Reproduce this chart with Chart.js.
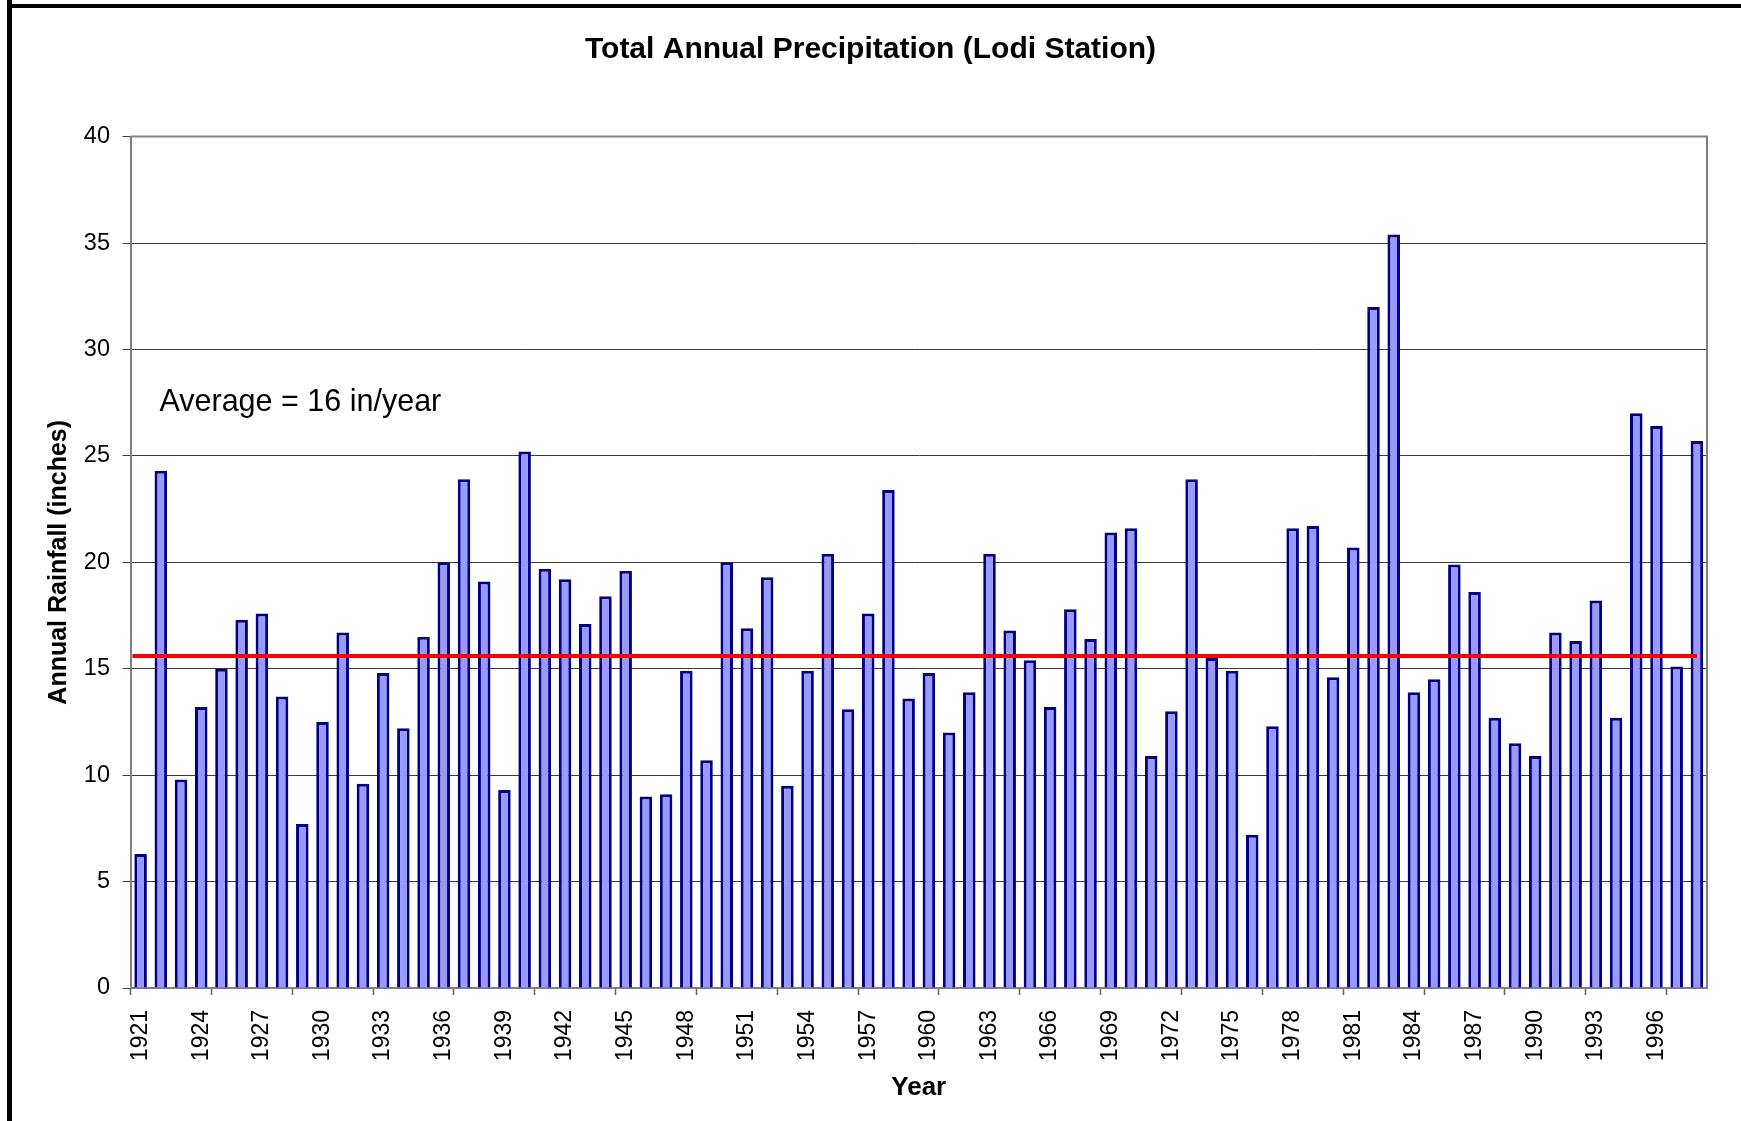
<!DOCTYPE html>
<html>
<head>
<meta charset="utf-8">
<script src="https://cdn.jsdelivr.net/npm/chart.js@4.4.1/dist/chart.umd.min.js"></script>
<style>
html, body { margin: 0; padding: 0; background: #ffffff; }
#wrap { position: relative; width: 1741px; height: 1121px; }
</style>
</head>
<body>
<div id="wrap"><canvas id="c"></canvas></div>
<script>
const years = ['1921','1922','1923','1924','1925','1926','1927','1928','1929','1930',
  '1931','1932','1933','1934','1935','1936','1937','1938','1939','1940',
  '1941','1942','1943','1944','1945','1946','1947','1948','1949','1950',
  '1951','1952','1953','1954','1955','1956','1957','1958','1959','1960',
  '1961','1962','1963','1964','1965','1966','1967','1968','1969','1970',
  '1971','1972','1973','1974','1975','1976','1977','1978','1979','1980',
  '1981','1982','1983','1984','1985','1986','1987','1988','1989','1990',
  '1991','1992','1993','1994','1995','1996','1997','1998'];

const rainfall = [6.3, 24.3, 9.8, 13.2, 15.0, 17.3, 17.6, 13.7, 7.7, 12.5,
  16.7, 9.6, 14.8, 12.2, 16.5, 20.0, 23.9, 19.1, 9.3, 25.2,
  19.7, 19.2, 17.1, 18.4, 19.6, 9.0, 9.1, 14.9, 10.7, 20.0,
  16.9, 19.3, 9.5, 14.9, 20.4, 13.1, 17.6, 23.4, 13.6, 14.8,
  12.0, 13.9, 20.4, 16.8, 15.4, 13.2, 17.8, 16.4, 21.4, 21.6,
  10.9, 13.0, 23.9, 15.5, 14.9, 7.2, 12.3, 21.6, 21.7, 14.6,
  20.7, 32.0, 35.4, 13.9, 14.5, 19.9, 18.6, 12.7, 11.5, 10.9,
  16.7, 16.3, 18.2, 12.7, 27.0, 26.4, 15.1, 25.7];

const labeledYears = ['1921','1924','1927','1930','1933','1936','1939','1942','1945',
  '1948','1951','1954','1957','1960','1963','1966','1969','1972','1975','1978',
  '1981','1984','1987','1990','1993','1996'];

const averageRainfall = 15.6;
const averageLabel = 'Average = 16 in/year';
const averageLabelValue = 27.5;
const chartTitle = 'Total Annual Precipitation (Lodi Station)';
const yAxisTitle = 'Annual Rainfall (inches)';
const xAxisTitle = 'Year';
const yMin = 0, yMax = 40, yStep = 5;

Chart.defaults.font.family = '"Liberation Sans", Arial, sans-serif';
Chart.defaults.color = '#000000';

const decorPlugin = {
  id: 'decor',
  beforeDraw(chart) {
    const ctx = chart.ctx;
    ctx.save();
    ctx.fillStyle = '#ffffff';
    ctx.fillRect(0, 0, chart.width, chart.height);
    ctx.fillStyle = '#000000';
    ctx.fillRect(7, 0, 5, chart.height);
    ctx.fillRect(7, 4, chart.width - 7, 4);
    ctx.restore();
  },
  afterDatasetsDraw(chart) {
    const ctx = chart.ctx;
    const a = chart.chartArea;
    const xs = chart.scales.x, ys = chart.scales.y;
    ctx.save();
    ctx.strokeStyle = '#808080';
    ctx.lineWidth = 2;
    ctx.beginPath();
    ctx.moveTo(a.left, a.top);
    ctx.lineTo(a.right, a.top);
    ctx.lineTo(a.right, a.bottom);
    ctx.stroke();

    const yPix = ys.getPixelForValue(averageRainfall);
    ctx.strokeStyle = '#ff0000';
    ctx.lineWidth = 4;
    ctx.beginPath();
    ctx.moveTo(a.left + 2, yPix);
    ctx.lineTo(xs.getPixelForValue(years.length - 1), yPix);
    ctx.stroke();

    ctx.fillStyle = '#000000';
    ctx.font = '30.5px "Liberation Sans", Arial, sans-serif';
    ctx.textAlign = 'left';
    ctx.textBaseline = 'middle';
    ctx.fillText(averageLabel, a.left + 29, ys.getPixelForValue(averageLabelValue));
    ctx.restore();
  }
};

new Chart(document.getElementById('c'), {
  type: 'bar',
  data: {
    labels: years,
    datasets: [{
      label: 'Annual Rainfall',
      data: rainfall,
      backgroundColor: '#9999ff',
      borderColor: '#000080',
      borderWidth: 3,
      barPercentage: 0.62,
      categoryPercentage: 1.0
    }]
  },
  options: {
    responsive: true,
    maintainAspectRatio: false,
    animation: false,
    devicePixelRatio: 1,
    layout: { padding: { left: 34, right: 34, top: 0, bottom: 0 } },
    plugins: {
      legend: { display: false },
      tooltip: { enabled: false },
      title: {
        display: true,
        text: chartTitle,
        color: '#000000',
        font: { size: 30, weight: 'bold' },
        padding: { top: 32, bottom: 68.6 }
      }
    },
    scales: {
      x: {
        offset: true,
        grid: {
          display: true,
          offset: true,
          drawOnChartArea: false,
          drawTicks: true,
          tickLength: 7,
          tickWidth: 1.5,
          tickColor: (ctx) => (ctx.index !== undefined && ctx.index % 4 === 0) ? '#606060' : 'rgba(0,0,0,0)'
        },
        border: { display: true, color: '#808080', width: 2 },
        ticks: {
          autoSkip: false,
          minRotation: 90,
          maxRotation: 90,
          padding: 15,
          color: '#000000',
          font: { size: 23 },
          callback: function (value, index) {
            const lab = years[index];
            return labeledYears.includes(lab) ? lab : '';
          }
        },
        title: {
          display: true,
          text: xAxisTitle,
          color: '#000000',
          font: { size: 26, weight: 'bold' },
          padding: { top: 0, bottom: 17.4 }
        },
        afterFit: (s) => { s.height = 133; }
      },
      y: {
        min: yMin,
        max: yMax,
        ticks: { stepSize: yStep, padding: 12.5, color: '#000000', font: { size: 23.5 } },
        grid: { color: '#3c3c3c', lineWidth: 1, tickLength: 8, tickColor: '#404040' },
        border: { display: true, color: '#808080', width: 2 },
        title: {
          display: true,
          text: yAxisTitle,
          color: '#000000',
          font: { size: 25, weight: 'bold', lineHeight: 1 },
          padding: { top: 13, bottom: 0 }
        },
        afterFit: (s) => { s.width = 96.5; }
      }
    }
  },
  plugins: [decorPlugin]
});
</script>
</body>
</html>
